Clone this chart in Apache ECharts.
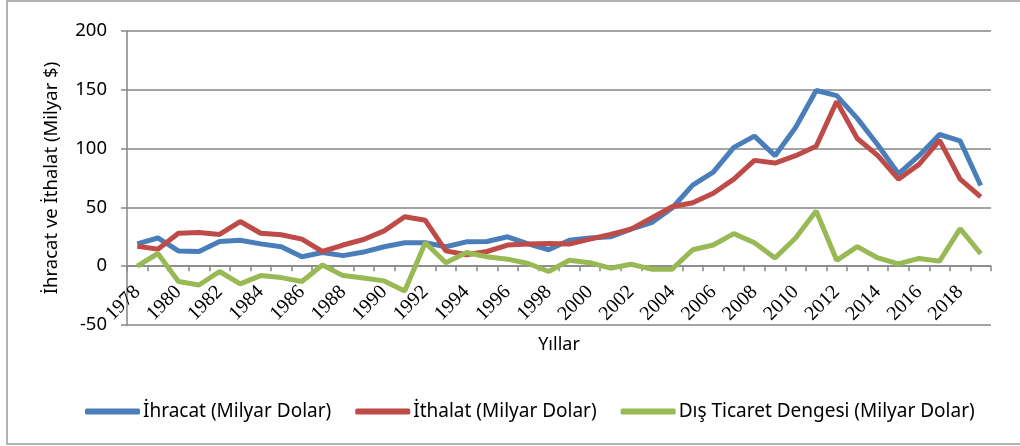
<!DOCTYPE html>
<html>
<head>
<meta charset="utf-8">
<script src="https://cdn.jsdelivr.net/npm/echarts@6/dist/echarts.min.js"></script>
<style>
  html, body { margin: 0; padding: 0; background: #fff; }
  #chart { width: 1020px; height: 446px; }
</style>
</head>
<body>
<div id="chart"></div>
<script>
var years = [];
for (var y = 1978; y <= 2019; y++) years.push(String(y));

var ihracat = [19, 24, 13, 12.5, 21, 22, 19, 16.5, 8, 11.6, 9, 12, 16.5, 20, 20, 16.5, 20.7, 21, 25, 19, 14,
  22, 24, 25, 31.5, 37, 49.5, 69, 80, 101, 110.6, 94, 118, 149.4, 145, 125.7, 103, 78.6, 94, 112, 106.6, 68.6];
var ithalat = [17, 14.5, 28, 28.7, 27, 38, 28, 26.7, 23, 12.5, 18, 22.7, 30, 42, 39, 13, 9.7, 12.5, 18, 18.8, 19.3,
  18.8, 23, 27, 31.5, 41, 50.6, 54, 62, 74, 90, 87.7, 94, 102, 140, 108.6, 94, 74, 86.6, 107, 74, 59];
var denge = [0, 10.8, -13, -16, -4.5, -15, -8, -9.7, -13, 1, -8, -10, -12.5, -21, 20, 3, 11.6, 8, 6, 2.3, -4.5,
  5, 3, -1.7, 1.7, -2.5, -2.5, 14, 18, 27.7, 20, 7, 24, 47, 5, 16.6, 7, 2, 6.6, 4.3, 32, 10.6];

var names = ['İhracat (Milyar Dolar)', 'İthalat (Milyar Dolar)', 'Dış Ticaret Dengesi (Milyar Dolar)'];
var colors = ['#4A7EBB', '#BE4B48', '#98B954'];

var chart = echarts.init(document.getElementById('chart'));

function line(name, data, color) {
  return {
    name: name,
    type: 'line',
    data: data,
    showSymbol: false,
    symbol: 'none',
    lineStyle: { color: color, width: 5 },
    itemStyle: { color: color },
    animation: false
  };
}

var option = {
  backgroundColor: '#fff',
  textStyle: { fontFamily: 'Noto Sans' },
  graphic: [{
    type: 'rect',
    shape: { x: 7, y: 1, width: 1020, height: 443 },
    style: { fill: 'none', stroke: '#9a9a9a', lineWidth: 1.5 },
    silent: true
  }],
  grid: { left: 127, right: 29, top: 31, bottom: 121 },
  legend: {
    top: 397,
    left: 80,
    icon: 'roundRect',
    itemWidth: 55,
    itemHeight: 6,
    itemGap: 24,
    textStyle: { fontSize: 19, color: '#000', fontFamily: 'Noto Sans', padding: [0, 0, 0, -2] },
    data: names
  },
  xAxis: {
    type: 'category',
    data: years,
    boundaryGap: true,
    name: 'Yıllar',
    nameLocation: 'middle',
    nameGap: 11,
    nameTextStyle: { fontSize: 18, color: '#000', fontFamily: 'Noto Sans' },
    axisLine: { onZero: true, lineStyle: { color: '#868686', width: 1.5 } },
    axisTick: { show: true, interval: 0, length: 5, lineStyle: { color: '#868686', width: 1.5 } },
    axisLabel: {
      interval: 1,
      rotate: 45,
      margin: -36,
      fontSize: 20,
      color: '#000',
      fontFamily: 'Liberation Serif'
    },
    splitLine: { show: false }
  },
  yAxis: {
    type: 'value',
    min: -50,
    max: 200,
    interval: 50,
    name: 'İhracat ve İthalat (Milyar $)',
    nameLocation: 'middle',
    nameGap: 66,
    nameTextStyle: { fontSize: 18.5, color: '#000', fontFamily: 'Noto Sans' },
    axisLine: { show: true, lineStyle: { color: '#868686', width: 1.5 } },
    axisTick: { show: true, length: 6, lineStyle: { color: '#868686', width: 1.5 } },
    axisLabel: { fontSize: 18.5, color: '#000', margin: 20, fontFamily: 'Noto Sans' },
    splitLine: { show: true, lineStyle: { color: '#868686', width: 1.5 } }
  },
  series: [
    line(names[0], ihracat, colors[0]),
    line(names[1], ithalat, colors[1]),
    line(names[2], denge, colors[2])
  ]
};

chart.setOption(option);
</script>
</body>
</html>
